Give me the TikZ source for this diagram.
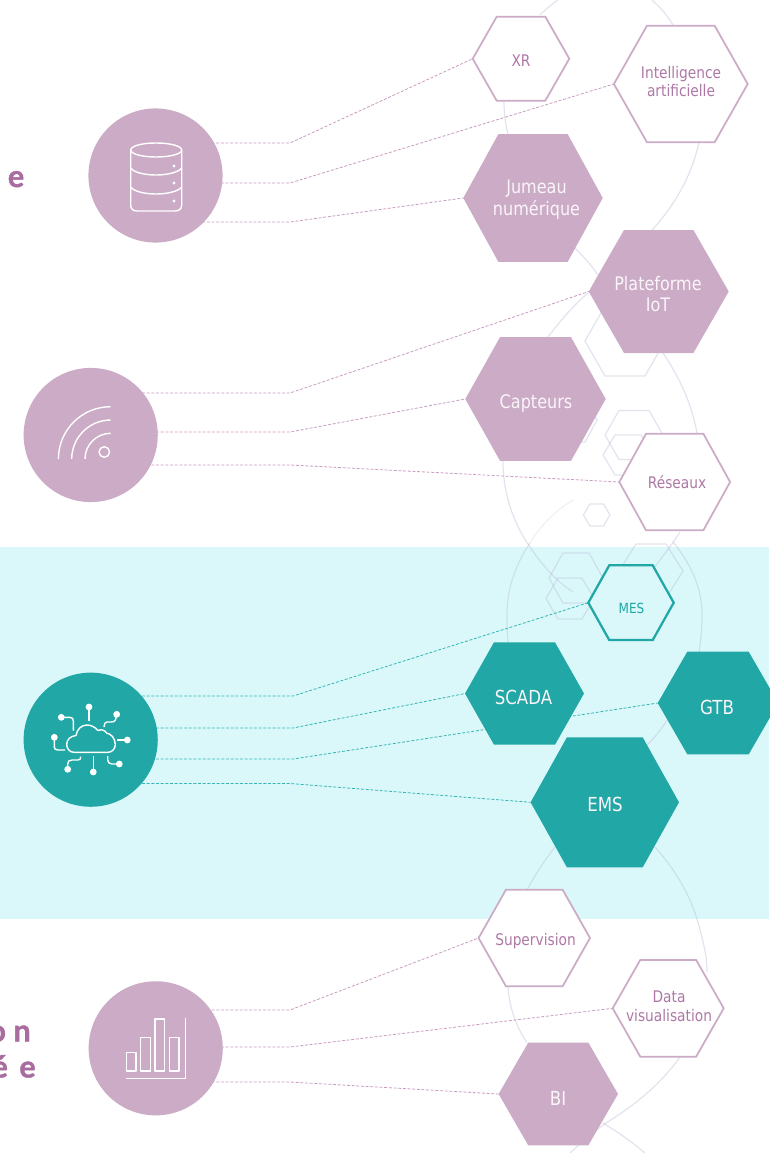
\documentclass[tikz,border=0pt]{standalone}
\usepackage{fontspec}
\setmainfont{DejaVu Sans}[FakeStretch=0.86]
\newfontfamily\headfont{Lato}[BoldFeatures={FakeBold=1.2}]
\definecolor{mauve}{HTML}{CBABC5}
\definecolor{mauvelink}{HTML}{CA9CC1}
\definecolor{mauvetxt}{HTML}{AE78A6}
\definecolor{mauvehead}{HTML}{A86C9E}
\definecolor{teal2}{HTML}{20A7A6}
\definecolor{teallink}{HTML}{35B5B4}
\definecolor{cyanbg}{HTML}{DAF8F9}
\definecolor{faint}{HTML}{B4B4D4}
\definecolor{softwhite}{HTML}{FBF5FA}
\pgfdeclarelayer{back}
\pgfsetlayers{back,main}
\tikzset{
  x=0.75pt,y=-0.75pt,
  ghost/.style={draw=faint,draw opacity=.36,line width=.9pt},
  ghostfade/.style={draw=faint,draw opacity=.18,line width=.9pt},
  hexfull/.style={fill=mauve},
  hexline/.style={draw=mauve,fill=white,line width=1.3pt},
  hexteal/.style={fill=teal2},
  hexmes/.style={draw=teal2,fill=cyanbg,line width=1.7pt},
  linkm/.style={draw=mauvelink,line width=.6pt,dash pattern=on 2.2pt off 1.3pt},
  linkt/.style={draw=teallink,line width=.6pt,dash pattern=on 2.2pt off 1.3pt},
  disc/.style={circle,minimum size=100.6pt,inner sep=0pt,fill=#1},
  icon/.style={draw=white,line width=1.05pt,line join=round},
  dot/.style={fill=white},
  lab/.style={inner sep=0pt,align=center,text=#1},
  head/.style={inner sep=0pt,anchor=base east,text=mauvehead,font=\headfont\bfseries\fontsize{23}{26}\selectfont},
}
% name, cx, cy, half width, half height, inset, style
\newcommand{\hexshape}[7]{%
  \path[#7] ({#2-#4},#3) -- ({#2-#4+#6},{#3-#5}) -- ({#2+#4-#6},{#3-#5}) -- ({#2+#4},#3) -- ({#2+#4-#6},{#3+#5}) -- ({#2-#4+#6},{#3+#5}) -- cycle;
  \coordinate (#1-w) at ({#2-#4},#3);
}
\newcommand{\txtsize}[1]{\fontsize{#1}{14}\selectfont\baselineskip=1.17em\relax}
\begin{document}
\begin{tikzpicture}
\useasboundingbox (0,0) rectangle (769,1153);
\begin{pgfonlayer}{back}
\fill[white] (0,0) rectangle (769,1153);
\fill[cyanbg] (0,547) rectangle (769,919);

% faint helix
\draw[ghost] (540,15) .. controls (546,9) and (552,4) .. (558,0);
\draw[ghost] (652,0) .. controls (660,7) and (667,15) .. (673,25);
\draw[ghost] (504,100) .. controls (504,112) and (505,123) .. (508,134);
\draw[ghost] (699,142) .. controls (692,175) and (675,205) .. (652,230);
\draw[ghost] (575,248) .. controls (584,257) and (592,266) .. (598,275);
\draw[ghost] (663,353) .. controls (680,378) and (692,405) .. (697,433);
\draw[ghost] (588,293) .. controls (573,306) and (560,321) .. (548,337);
\draw[ghost] (503,461) .. controls (503,495) and (514,524) .. (530,547) .. controls (542,565) and (556,581) .. (573,592);
\draw[ghostfade] (573,500) .. controls (555,511) and (541,525) .. (530,543);
\draw[ghost] (530,543) .. controls (515,565) and (507,590) .. (507,613) .. controls (507,623) and (507,633) .. (508,642);
\draw[ghost] (673,542) .. controls (692,565) and (702,590) .. (702,613) .. controls (702,627) and (701,640) .. (699,652);
\draw[ghost] (680,532) .. controls (668,550) and (655,568) .. (640,583);
\draw[ghostfade] (640,583) .. controls (630,595) and (620,605) .. (607,612);
\draw[ghost] (667,720) .. controls (661,730) and (654,738) .. (647,745);
\draw[ghost] (555,847) .. controls (545,860) and (535,875) .. (527,890);
\draw[ghost] (655,847) .. controls (678,873) and (693,900) .. (700,930) .. controls (704,945) and (707,957) .. (707,972);
\draw[ghost] (680,1057) .. controls (660,1085) and (635,1105) .. (603,1125) .. controls (592,1133) and (581,1143) .. (570,1153);
\draw[ghost] (603,1123) .. controls (618,1132) and (632,1142) .. (645,1153);
\draw[ghost] (508,986) .. controls (509,1007) and (516,1026) .. (527,1043);
\foreach \cx/\cy/\w/\h/\i in {625/341/40/35/20, 634/435/29/24.5/14, 628/455/25/20/12, 596.7/515/13.3/11/6.5, 575/420/22/22/12, 576/578/27/25/14, 570/598.5/24/20.5/12, 651/571/32/27/17}{
  \path[ghost] ({\cx-\w},\cy) -- ({\cx-\w+\i},{\cy-\h}) -- ({\cx+\w-\i},{\cy-\h}) -- ({\cx+\w},\cy) -- ({\cx+\w-\i},{\cy+\h}) -- ({\cx-\w+\i},{\cy+\h}) -- cycle;
}
\end{pgfonlayer}

% circles
\node[disc=mauve] (cdb) at (155.5,175.5) {};
\node[disc=mauve] (cwf) at (90.7,435) {};
\node[disc=teal2] (ccl) at (90.7,739.7) {};
\node[disc=mauve] (cch) at (155.7,1048.3) {};

% hexagons
\hexshape{xr}{521}{58.7}{48.3}{42}{24}{hexline}
\hexshape{ia}{680.8}{84}{66.9}{58.2}{33}{hexline}
\hexshape{jn}{533}{198}{69.7}{63.8}{35}{hexfull}
\hexshape{pi}{658.7}{291.5}{70}{61.5}{35.3}{hexfull}
\hexshape{ca}{535.5}{399}{70.2}{61.8}{34.7}{hexfull}
\hexshape{re}{674.7}{482}{55.4}{48.2}{26.7}{hexline}
\hexshape{me}{631}{602.7}{42.7}{37.4}{21}{hexmes}
\hexshape{sc}{524.5}{693.5}{59.5}{51.2}{29}{hexteal}
\hexshape{gt}{718}{703}{60.3}{51.3}{29.6}{hexteal}
\hexshape{em}{604.8}{802.3}{74.2}{65}{36.3}{hexteal}
\hexshape{su}{534.3}{938}{55.7}{48.2}{27.3}{hexline}
\hexshape{da}{668.2}{1008.3}{55.5}{48.4}{27.6}{hexline}
\hexshape{bi}{558.3}{1094}{59.7}{51.3}{29.6}{hexfull}

% elbows
\coordinate (e1) at (290,143);
\coordinate (e2) at (290,183);
\coordinate (e3) at (290,222);
\coordinate (e4) at (290,393);
\coordinate (e5) at (290,432);
\coordinate (e6) at (290,465);
\coordinate (e7) at (293,696);
\coordinate (e8) at (293,728);
\coordinate (e9) at (293,759);
\coordinate (e10) at (290,783.5);
\coordinate (e11) at (290,1010);
\coordinate (e12) at (290,1047);
\coordinate (e13) at (290,1082);

\begin{pgfonlayer}{back}
\begin{scope}[linkm]
\draw (e1 -| cdb.center) -- (e1) -- (xr-w);
\draw (e2 -| cdb.center) -- (e2) -- (ia-w);
\draw (e3 -| cdb.center) -- (e3) -- (jn-w);
\draw (e4 -| cwf.center) -- (e4) -- (pi-w);
\draw (e5 -| cwf.center) -- (e5) -- (ca-w);
\draw (e6 -| cwf.center) -- (e6) -- (re-w);
\draw (e11 -| cch.center) -- (e11) -- (su-w);
\draw (e12 -| cch.center) -- (e12) -- (da-w);
\draw (e13 -| cch.center) -- (e13) -- (bi-w);
\end{scope}
\begin{scope}[linkt]
\draw (e7 -| ccl.center) -- (e7) -- (me-w);
\draw (e8 -| ccl.center) -- (e8) -- (sc-w);
\draw (e9 -| ccl.center) -- (e9) -- (gt-w);
\draw (e10 -| ccl.center) -- (e10) -- (em-w);
\end{scope}
\end{pgfonlayer}

% labels
\node[lab=mauvetxt,font=\txtsize{12}] (txr) at (521,61) {XR};
\node[lab=mauvetxt,font=\txtsize{12}] (tia) at (681,81.5) {Intelligence\\artificielle};
\node[lab=softwhite,font=\txtsize{14}] (tjn) at (536.5,200) {Jumeau\\numérique};
\node[lab=softwhite,font=\txtsize{14}] (tpi) at (658,294) {Plateforme\\IoT};
\node[lab=softwhite,font=\txtsize{14}] (tca) at (536,404) {Capteurs};
\node[lab=mauvetxt,font=\txtsize{12}] (tre) at (677,482.5) {Réseaux};
\node[lab=teal2,font=\txtsize{10.5}] (tme) at (631.5,608) {MES};
\node[lab=softwhite,font=\txtsize{14.5}] (tsc) at (523.5,697) {SCADA};
\node[lab=softwhite,font=\txtsize{14.5}] (tgt) at (717,707.5) {GTB};
\node[lab=softwhite,font=\txtsize{14.5}] (tem) at (605,804.5) {EMS};
\node[lab=mauvetxt,font=\txtsize{12}] (tsu) at (535.5,941) {Supervision};
\node[lab=mauvetxt,font=\txtsize{12}] (tda) at (669,1006.5) {Data\\visualisation};
\node[lab=softwhite,font=\txtsize{14.5}] (tbi) at (558,1098.5) {BI};

% clipped headings at the left edge
\node[head] (h1) at (24.5,187) {e};
\node[head] (h2) at (31,1041.5) {o n};
\node[head] (h3) at (36,1077.5) {é\hspace{3pt} e};

% database icon
\begin{scope}[icon]
\draw (130.7,150) .. controls (130.7,146) and (142,143) .. (156,143) .. controls (170,143) and (181.7,146) .. (181.7,150) .. controls (181.7,154) and (170,157) .. (156,157) .. controls (142,157) and (130.7,154) .. (130.7,150) -- cycle;
\draw (130.7,150) -- (130.7,205) .. controls (130.7,209) and (133,211) .. (137,211) -- (175,211) .. controls (179,211) and (181.7,209) .. (181.7,205) -- (181.7,150);
\draw (130.7,168) .. controls (133,172) and (144,175) .. (156,175) .. controls (168,175) and (179,172) .. (181.7,168);
\draw (130.7,187) .. controls (133,191) and (144,194) .. (156,194) .. controls (168,194) and (179,191) .. (181.7,187);
\end{scope}
\fill[dot] (174,166) circle[radius=1.7];
\fill[dot] (174,183) circle[radius=1.7];
\fill[dot] (174,201) circle[radius=1.7];

% signal icon
\begin{scope}[icon]
\draw (58.4,459) .. controls (58.4,430) and (81.8,406.7) .. (110.7,406.7);
\draw (71.7,459) .. controls (71.7,437.5) and (89.2,420) .. (110.7,420);
\draw (85,459) .. controls (85,444.8) and (96.5,433.3) .. (110.7,433.3);
\draw (104.3,452) circle[radius=5.3];
\end{scope}

% cloud icon
\begin{scope}[icon]
\draw (74,752.3) -- (108,752.3) .. controls (112.5,752.3) and (115.3,748.5) .. (115.3,744.5) .. controls (115.3,738.5) and (111,733.5) .. (106.7,733.2) .. controls (105,730) and (101,729) .. (98,730.5) .. controls (95,727) and (91,725) .. (87,725) .. controls (81,725) and (77,729.5) .. (76,735.5) .. controls (70,736) and (66.7,740) .. (66.7,744.5) .. controls (66.7,749) and (70,752.3) .. (74,752.3) -- cycle;
\draw (89,707) -- (89,721);
\draw (116.7,714) -- (115.5,720) .. controls (115,721.5) and (113,722) .. (111,722) -- (107,722) .. controls (105,722) and (104,724) .. (104,727);
\draw (61.3,717.3) -- (70,717.3) .. controls (72.5,717.3) and (73.3,719) .. (73.3,721) -- (73.3,730.7);
\draw (54.3,737) -- (54.3,747) .. controls (54.3,749) and (55.5,750) .. (58,750) -- (65,750);
\draw (127.3,740) -- (117.3,740);
\draw (119.3,764) -- (112,764) .. controls (109.5,764) and (107.7,762.5) .. (107.7,760) -- (107.7,756);
\draw (93.3,772) -- (93.3,756);
\draw (67.7,769) -- (67.7,764) .. controls (67.7,761.5) and (69,760) .. (72,760) -- (78,760) .. controls (80,760) and (80.7,759) .. (80.7,756.7);
\end{scope}
\foreach \dx/\dy in {89/707, 116.7/714.3, 61.3/717.3, 54.3/737.3, 127.3/740, 119.3/764, 93.3/772, 67.7/769.3}{
  \fill[dot] (\dx,\dy) circle[radius=3.4];
}

% chart icon
\begin{scope}[icon]
\draw (185.7,1018.3) -- (185.7,1078.3) -- (126,1078.3);
\draw (126.7,1052.7) rectangle (136,1071);
\draw (140.7,1037.7) rectangle (150.3,1071);
\draw (155,1019) rectangle (164.7,1071);
\draw (169.3,1037.7) rectangle (179,1071);
\end{scope}
\end{tikzpicture}
\end{document}
